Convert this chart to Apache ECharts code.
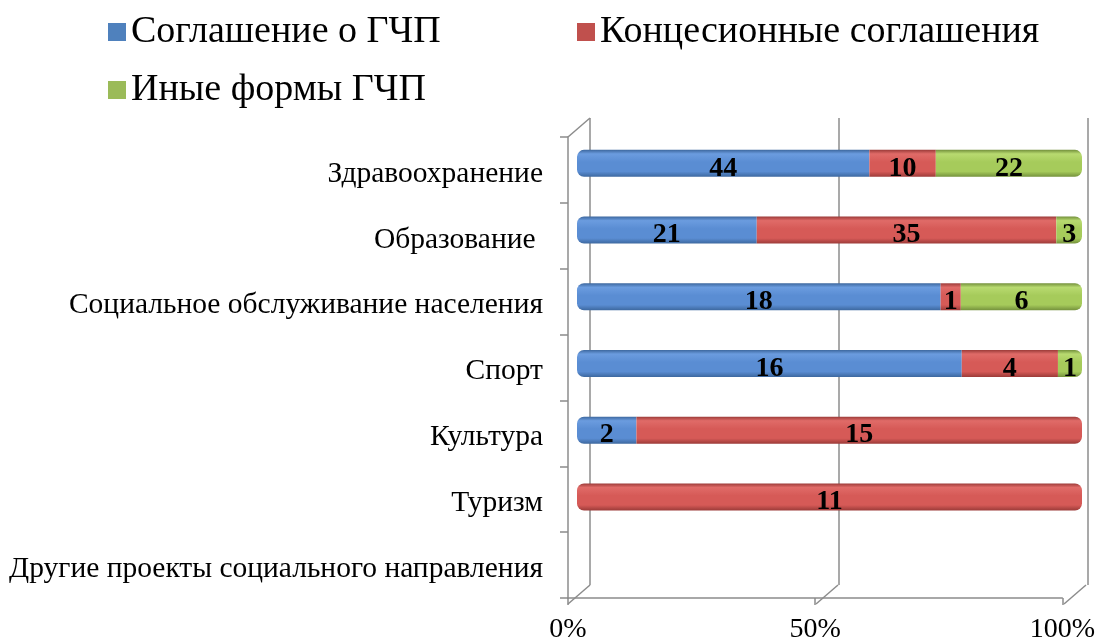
<!DOCTYPE html>
<html>
<head>
<meta charset="utf-8">
<script src="https://cdn.jsdelivr.net/npm/echarts@6/dist/echarts.min.js"></script>
<style>
  html, body { margin: 0; padding: 0; background: #fff; }
  #chart { width: 1098px; height: 644px; }
</style>
</head>
<body>
<div id="chart"></div>
<script>
// Projects of public-private partnership in the social sphere, by form
const categories = [
  'Здравоохранение',
  'Образование ',
  'Социальное обслуживание населения',
  'Спорт',
  'Культура',
  'Туризм',
  'Другие проекты социального направления'
];
const seriesNames = ['Соглашение о ГЧП', 'Концесионные соглашения', 'Иные формы ГЧП'];
const pppAgreements = [44, 21, 18, 16, 2, 0, 0];
const concessions   = [10, 35, 1, 4, 15, 11, 0];
const otherForms    = [22, 3, 6, 1, 0, 0, 0];
const percentTicks  = [0, 50, 100];

const FONT = 'Liberation Serif';
const GRID_COLOR = '#8c8c8c';
const legendColors = ['#4f81bd', '#c0504d', '#9bbb59'];

// front (floor edge) plane, back wall plane and the middle plane where the bars sit
const front = { left: 568, top: 137, width: 496, height: 467 };
const back  = { left: 590, top: 118, width: 498, height: 467 };
const mid   = { left: 577, top: 130, width: 505, height: 467 };

const rows = [pppAgreements, concessions, otherForms];
const totals = categories.map((_, i) => rows.reduce((s, r) => s + r[i], 0));

function cylinder(light, main, dark) {
  return new echarts.graphic.LinearGradient(0, 0, 0, 1, [
    { offset: 0, color: dark },
    { offset: 0.15, color: light },
    { offset: 0.45, color: main },
    { offset: 0.8, color: main },
    { offset: 1, color: dark }
  ]);
}
const fills = [
  cylinder('#6b9cdf', '#5a8dd3', '#3d689f'),
  cylinder('#e06b68', '#d65a57', '#9c3b39'),
  cylinder('#b8da70', '#a6cb5b', '#74913c')
];

function seriesData(k) {
  return rows[k].map((v, i) => {
    const pct = totals[i] ? v / totals[i] * 100 : 0;
    // rounded ends on the first and last visible segment of each cylinder
    const firstK = rows.findIndex(r => r[i] > 0);
    const lastK = rows.length - 1 - [...rows].reverse().findIndex(r => r[i] > 0);
    const rl = k === firstK ? 7 : 0;
    const rr = k === lastK ? 7 : 0;
    return { value: pct, raw: v, itemStyle: { borderRadius: [rl, rr, rr, rl] } };
  });
}

const series = seriesNames.map((name, k) => ({
  name,
  type: 'bar',
  stack: 'total',
  xAxisIndex: 2,
  yAxisIndex: 2,
  barWidth: 27,
  data: seriesData(k),
  itemStyle: { color: fills[k] },
  label: {
    show: true,
    position: 'inside',
    offset: [0, 5],
    fontFamily: FONT,
    fontWeight: 'bold',
    fontSize: 28,
    color: '#000',
    formatter: p => (p.data.raw > 0 ? String(p.data.raw) : '')
  },
  z: 3
}));

const legendText = { fontFamily: FONT, fontSize: 38, color: '#000' };
function legendFor(k, left, top) {
  return {
    data: [{ name: seriesNames[k], itemStyle: { color: legendColors[k] } }],
    left, top,
    itemWidth: 18, itemHeight: 18, itemGap: 9, icon: 'rect',
    textStyle: legendText, selectedMode: false
  };
}

const chart = echarts.init(document.getElementById('chart'));
chart.setOption({
  animation: false,
  color: legendColors,
  legend: [
    legendFor(0, 103, 8),
    legendFor(1, 572, 8),
    legendFor(2, 103, 66)
  ],
  grid: [
    Object.assign({}, front),
    Object.assign({}, back),
    Object.assign({}, mid)
  ],
  xAxis: [
    {
      gridIndex: 0, type: 'value', min: 0, max: 100, interval: 50,
      axisLine: { show: true, lineStyle: { color: GRID_COLOR, width: 1.5 } },
      axisTick: { show: true, length: 7, lineStyle: { color: GRID_COLOR, width: 1.5 } },
      splitLine: { show: false },
      axisLabel: {
        fontFamily: FONT, fontSize: 28, color: '#000', margin: 18,
        formatter: v => (percentTicks.includes(v) ? v + '%' : '')
      }
    },
    {
      gridIndex: 1, type: 'value', min: 0, max: 100, interval: 50,
      axisLine: { show: false }, axisTick: { show: false }, axisLabel: { show: false },
      splitLine: { show: true, lineStyle: { color: GRID_COLOR, width: 1.5 } }
    },
    {
      gridIndex: 2, type: 'value', min: 0, max: 100, show: false,
      splitLine: { show: false }
    }
  ],
  yAxis: [
    {
      gridIndex: 0, type: 'category', data: categories, inverse: true,
      axisLine: { show: true, lineStyle: { color: GRID_COLOR, width: 1.5 } },
      axisTick: { show: true, length: 8, lineStyle: { color: GRID_COLOR, width: 1.5 } },
      axisLabel: {
        margin: 25,
        formatter: v => '{c|' + v + '}',
        rich: {
          c: { fontFamily: FONT, fontSize: 29.5, color: '#000', padding: [8, 0, 0, 0] }
        }
      }
    },
    {
      gridIndex: 1, type: 'category', data: categories, inverse: true, show: false
    },
    {
      gridIndex: 2, type: 'category', data: categories, inverse: true, show: false
    }
  ],
  series
});

// depth edges joining the front plane to the back wall
const dx = back.left - front.left;
const dy = back.top - front.top;
const edges = [];
const bottomY = front.top + front.height;
percentTicks.forEach(t => {
  const x = front.left + front.width * t / 100;
  edges.push([[x, bottomY], [x + dx, bottomY + dy]]);
});
edges.push([[front.left, front.top], [front.left + dx, front.top + dy]]);
chart.setOption({
  graphic: edges.map(pts => ({
    type: 'polyline',
    shape: { points: pts },
    style: { stroke: GRID_COLOR, lineWidth: 1.5, fill: null },
    z: 1
  }))
});
</script>
</body>
</html>
